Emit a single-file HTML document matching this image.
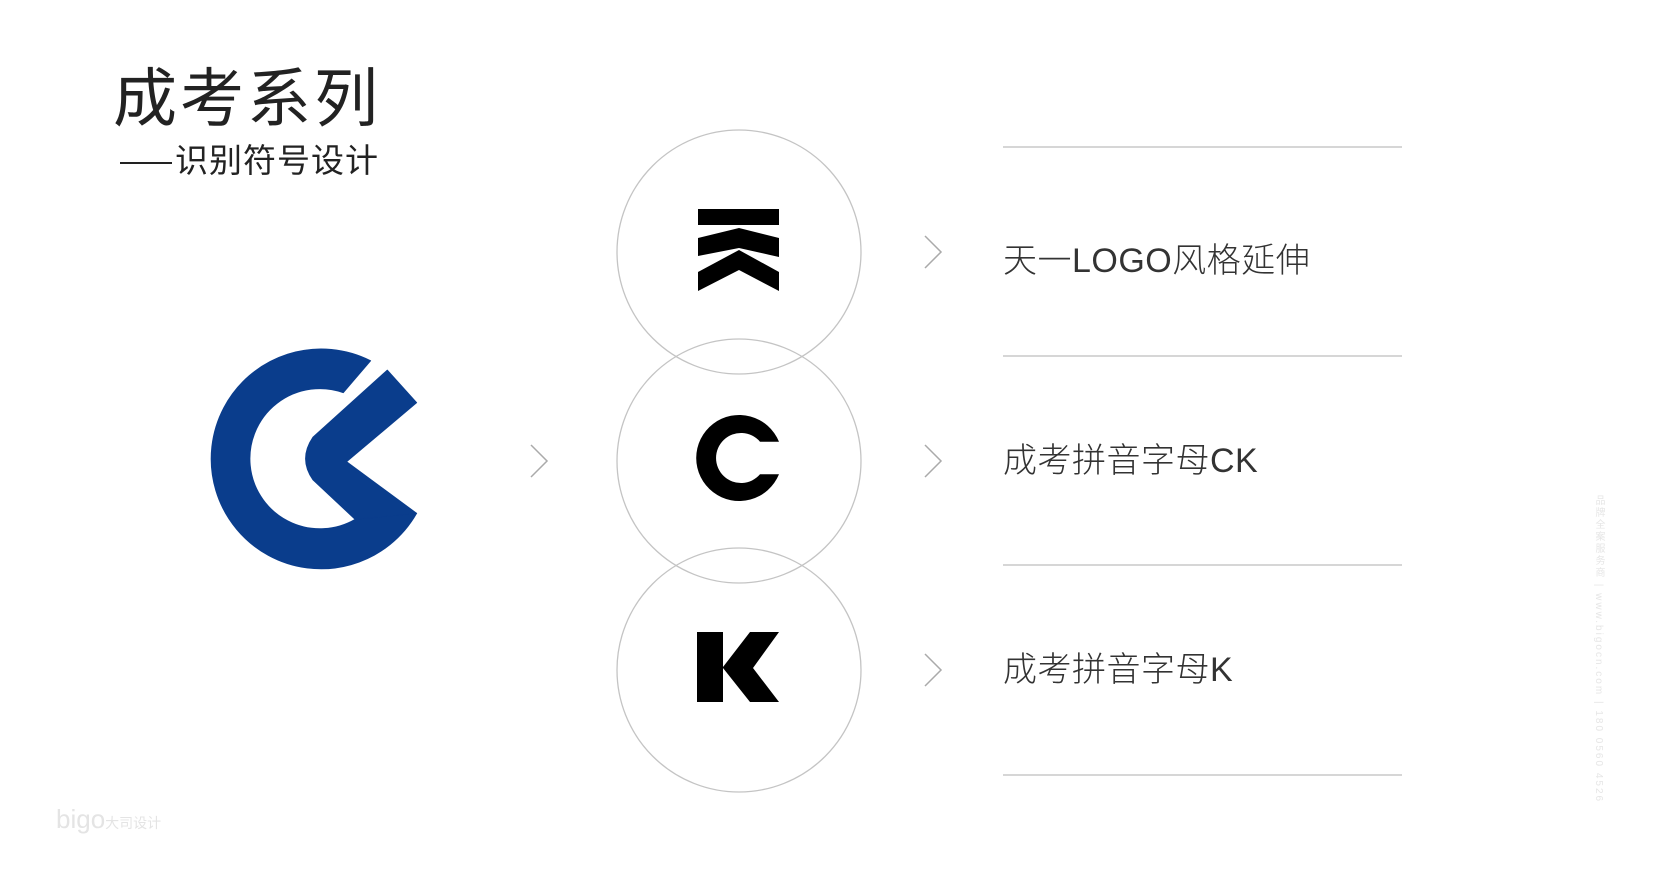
<!DOCTYPE html>
<html><head><meta charset="utf-8"><style>
html,body{margin:0;padding:0;background:#fff;}
#c{position:relative;width:1660px;height:890px;overflow:hidden;background:#fff;font-family:"Liberation Sans","Noto Sans CJK SC",sans-serif;}
.t{position:absolute;white-space:nowrap;color:#333;}
svg{position:absolute;left:0;top:0;}
</style></head><body><div id="c">
<svg width="1660" height="890" viewBox="0 0 1660 890">
 <g fill="none" stroke="#c4c4c4" stroke-width="1.3">
  <circle cx="739" cy="252" r="122"/>
  <circle cx="739" cy="461" r="122"/>
  <circle cx="739" cy="670" r="122"/>
 </g>
 <g stroke="#c8c8c8" stroke-width="1.5">
  <line x1="1003" y1="147" x2="1402" y2="147"/>
  <line x1="1003" y1="356" x2="1402" y2="356"/>
  <line x1="1003" y1="565" x2="1402" y2="565"/>
  <line x1="1003" y1="775" x2="1402" y2="775"/>
 </g>
 <g fill="none" stroke="#aaa" stroke-width="1.5">
  <polyline points="925,236 941,252 925,268"/>
  <polyline points="925,445 941,461 925,477"/>
  <polyline points="925,654 941,670 925,686"/>
  <polyline points="531,445 547,461 531,477"/>
 </g>
 <g fill="#0a3d8c" stroke="#0a3d8c" stroke-width="0.8" stroke-linejoin="round">
  <path d="M370.7,360.7 A110,110 0 1,0 416.7,513.3 L355,519.3 A70,70 0 1,1 343.3,392.7 Z"/>
  <path d="M387.3,370 L416.7,402.7 L346.7,461.7 L416.7,513.3 L355,519.3 L313,480 Q298,459 313,437 Z"/>
 </g>
 <g fill="#000">
  <rect x="698" y="209" width="81" height="16"/>
  <polygon points="698,238 739,228 779,238 779,257 739,248 698,256"/>
  <polygon points="698,272 739,250 779,272 779,291 739,270 698,291"/>
  <path d="M779,441.7 A43,43 0 1,0 779,474.3 L760,474.3 A25,25 0 1,1 760,441.7 Z"/>
  <polygon points="697,632 723,632 723,667 750,632 779,632 753,668 779,702 750,702 723,668 723,702 697,702"/>
 </g>
</svg>
<div class="t" style="left:113px;top:48px;font-size:64px;color:#222;letter-spacing:3px;">成考系列</div>
<div class="t" style="left:120px;top:134px;font-size:33px;color:#222;letter-spacing:1px;"><span style="display:inline-block;width:52px;height:2px;background:#222;vertical-align:middle;margin-right:3px;"></span>识别符号设计</div>
<div class="t" style="left:1003px;top:233px;font-size:34px;font-weight:300;letter-spacing:0.5px;">天一LOGO风格延伸</div>
<div class="t" style="left:1003px;top:433px;font-size:34px;font-weight:300;letter-spacing:0.5px;">成考拼音字母CK</div>
<div class="t" style="left:1003px;top:642px;font-size:34px;font-weight:300;letter-spacing:0.5px;">成考拼音字母K</div>
<div class="t" style="left:56px;top:804px;font-size:26px;color:#e4e4e4;">bigo<span style="font-size:14px;">大司设计</span></div>
<div class="t" style="left:1591px;top:495px;font-size:10px;color:#e6e6e6;writing-mode:vertical-rl;letter-spacing:2px;">品牌全案服务商 | www.bigocn.com | 180 0560 4526</div>
</div></body></html>
